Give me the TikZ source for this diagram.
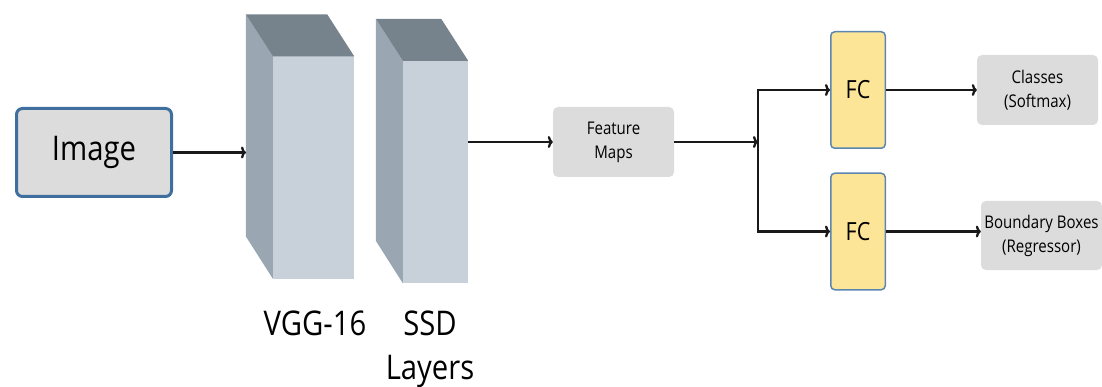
\documentclass[tikz,border=0pt]{standalone}
\usepackage{fontspec}
\setmainfont{Open Sans}[FakeStretch=0.86]
\usetikzlibrary{arrows.meta,positioning,calc}

\definecolor{boxgray}{HTML}{DCDCDC}
\definecolor{boxblue}{HTML}{3F6F9F}
\definecolor{fcyellow}{HTML}{FDE598}
\definecolor{fcblue}{HTML}{5B86B0}
\definecolor{frontface}{HTML}{C8D0D9}
\definecolor{sideface}{HTML}{9AA6B2}
\definecolor{topface}{HTML}{76838C}

\begin{document}
\begin{tikzpicture}[x=1pt,y=-1pt,
		conn/.style={draw=black!90, line width=2.3pt, -{To[length=5pt,width=12pt]}},
		graybox/.style={fill=boxgray, rounded corners=5pt, minimum width=121pt,
			minimum height=70pt, align=center, inner sep=0pt,
			font=\fontsize{17.5}{24}\selectfont},
		fcbox/.style={draw=fcblue, line width=1.5pt, fill=fcyellow, rounded corners=4pt,
			minimum width=54.5pt, minimum height=116.5pt, font=\fontsize{25}{28}\selectfont},
		layerfront/.style={fill=frontface, minimum height=222pt, inner sep=0pt},
		layerlabel/.style={align=center, anchor=base, font=\fontsize{34}{44}\selectfont},
	]
	\useasboundingbox (0,0) rectangle (1102,387);

	\node[draw=boxblue, line width=3pt, fill=boxgray, rounded corners=6pt,
		minimum width=155pt, minimum height=88pt,
		font=\fontsize{34}{40}\selectfont] (image) at (94,152.5) {Image};

	% the two layer blocks
	\node[layerfront, minimum width=81pt] (vgg) at (313.5,167.5) {};
	\node[layerfront, minimum width=65pt] (ssd) at (435.5,172) {};
	\foreach \n in {vgg,ssd} {
		\fill[sideface] (\n.north west) -- ++(-27,-42) -- ++(0,222) -- (\n.south west) -- cycle;
		\fill[topface] (\n.north west) -- ++(-27,-42) -- ($(\n.north east)+(-27,-42)$) -- (\n.north east) -- cycle;
	}
	\node[layerlabel] (vgglabel) at (315,335) {VGG-16};
	\node[layerlabel] (ssdlabel) at (430,379) {SSD\\Layers};
	\coordinate (vggin) at (246,152.5);

	\node[graybox] (feature) at (613.5,142) {Feature\\Maps};
	\coordinate (split) at (758,142);

	\node[fcbox] (fc1) at (858,90) {FC};
	\node[fcbox] (fc2) at (858,231.5) {FC};

	\node[graybox] (classes) at (1037.5,90) {Classes\\(Softmax)};
	\node[graybox, minimum height=69pt] (boxes) at (1041.5,235.5) {Boundary Boxes\\(Regressor)};

	\draw[conn] (image) -- (vggin);
	\draw[conn] (ssd.east |- feature) -- (feature);
	\draw[conn] (feature) -- (split);
	\draw[conn] (split) |- (fc1.west);
	\draw[conn] (split) |- (fc2.west);
	\draw[conn] (fc1) -- (classes);
	\draw[conn] (fc2.east) -- (fc2.east -| boxes.west);
\end{tikzpicture}
\end{document}
